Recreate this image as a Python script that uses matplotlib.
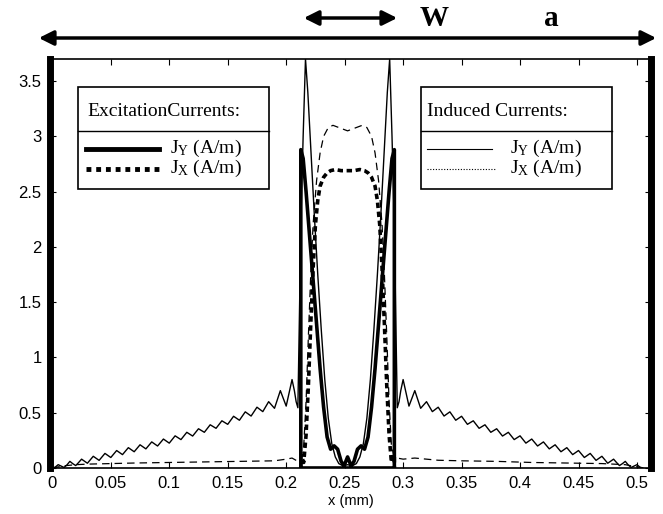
import matplotlib
matplotlib.use('Agg')
import matplotlib.pyplot as plt
from matplotlib.patches import Rectangle, FancyArrowPatch
from matplotlib.lines import Line2D

plt.rcParams['mathtext.fontset'] = 'custom'
plt.rcParams['mathtext.rm'] = 'Liberation Serif'
plt.rcParams['mathtext.it'] = 'Liberation Serif:italic'

# ---------------- data ----------------
# Induced J_Y (thin solid): left ramp, strip region, right ramp
ind_jy_left_x = [0.0000, 0.0025, 0.0050, 0.0075, 0.0100, 0.0125, 0.0150, 0.0175, 0.0200, 0.0225,
                 0.0250, 0.0275, 0.0300, 0.0325, 0.0350, 0.0375, 0.0400, 0.0425, 0.0450, 0.0475,
                 0.0500, 0.0525, 0.0550, 0.0575, 0.0600, 0.0625, 0.0650, 0.0675, 0.0700, 0.0725,
                 0.0750, 0.0775, 0.0800, 0.0825, 0.0850, 0.0875, 0.0900, 0.0925, 0.0950, 0.0975,
                 0.1000, 0.1025, 0.1050, 0.1075, 0.1100, 0.1125, 0.1150, 0.1175, 0.1200, 0.1225,
                 0.1250, 0.1275, 0.1300, 0.1325, 0.1350, 0.1375, 0.1400, 0.1425, 0.1450, 0.1475,
                 0.1500, 0.1525, 0.1550, 0.1575, 0.1600, 0.1625, 0.1650, 0.1675, 0.1700, 0.1725,
                 0.1750, 0.1775, 0.1800, 0.1825, 0.1850, 0.1875, 0.1900, 0.1925, 0.1950, 0.1975,
                 0.2000, 0.2025, 0.2050, 0.2070, 0.2085, 0.2100]
ind_jy_left_y = [0.000, 0.008, 0.030, 0.017, 0.005, 0.028, 0.060, 0.039, 0.022, 0.050,
                 0.080, 0.062, 0.043, 0.075, 0.106, 0.088, 0.069, 0.101, 0.132, 0.114,
                 0.095, 0.127, 0.158, 0.140, 0.121, 0.153, 0.184, 0.166, 0.147, 0.179,
                 0.210, 0.192, 0.173, 0.205, 0.236, 0.218, 0.199, 0.231, 0.262, 0.244,
                 0.225, 0.258, 0.291, 0.274, 0.257, 0.290, 0.323, 0.306, 0.289, 0.322,
                 0.355, 0.339, 0.323, 0.357, 0.391, 0.375, 0.359, 0.393, 0.427, 0.411,
                 0.395, 0.431, 0.468, 0.450, 0.432, 0.470, 0.508, 0.489, 0.470, 0.510,
                 0.550, 0.530, 0.510, 0.555, 0.600, 0.570, 0.540, 0.620, 0.700, 0.630,
                 0.560, 0.680, 0.800, 0.700, 0.600, 0.545]
ind_jy_mid_x = [0.2115, 0.2125, 0.2145, 0.2165, 0.2185, 0.221, 0.224, 0.227, 0.230, 0.233,
                0.236, 0.239, 0.242, 0.245, 0.2485, 0.2525, 0.2565, 0.260, 0.263, 0.266,
                0.269, 0.272, 0.275, 0.278, 0.281, 0.284, 0.2865, 0.2885, 0.2905, 0.2925,
                0.2935]
ind_jy_mid_y = [1.5, 2.2, 3.0, 3.7, 3.4, 2.9, 2.3, 1.75, 1.25, 0.8,
                0.45, 0.22, 0.1, 0.04, 0.02, 0.03, 0.02, 0.04, 0.1, 0.22,
                0.45, 0.8, 1.25, 1.75, 2.3, 2.9, 3.4, 3.7, 3.0, 2.2,
                1.5]
ind_jy_right_x = [0.2950, 0.2965, 0.2980, 0.3000, 0.3025, 0.3050, 0.3075, 0.3100, 0.3125, 0.3150,
                  0.3175, 0.3200, 0.3225, 0.3250, 0.3275, 0.3300, 0.3325, 0.3350, 0.3375, 0.3400,
                  0.3425, 0.3450, 0.3475, 0.3500, 0.3525, 0.3550, 0.3575, 0.3600, 0.3625, 0.3650,
                  0.3675, 0.3700, 0.3725, 0.3750, 0.3775, 0.3800, 0.3825, 0.3850, 0.3875, 0.3900,
                  0.3925, 0.3950, 0.3975, 0.4000, 0.4025, 0.4050, 0.4075, 0.4100, 0.4125, 0.4150,
                  0.4175, 0.4200, 0.4225, 0.4250, 0.4275, 0.4300, 0.4325, 0.4350, 0.4375, 0.4400,
                  0.4425, 0.4450, 0.4475, 0.4500, 0.4525, 0.4550, 0.4575, 0.4600, 0.4625, 0.4650,
                  0.4675, 0.4700, 0.4725, 0.4750, 0.4775, 0.4800, 0.4825, 0.4850, 0.4875, 0.4900,
                  0.4925, 0.4950, 0.4975, 0.5000, 0.5025, 0.5050]
ind_jy_right_y = [0.545, 0.600, 0.700, 0.800, 0.680, 0.560, 0.630, 0.700, 0.620, 0.540,
                  0.570, 0.600, 0.555, 0.510, 0.530, 0.550, 0.510, 0.470, 0.489, 0.508,
                  0.470, 0.432, 0.450, 0.468, 0.431, 0.395, 0.411, 0.427, 0.393, 0.359,
                  0.375, 0.391, 0.357, 0.323, 0.339, 0.355, 0.322, 0.289, 0.306, 0.323,
                  0.290, 0.257, 0.274, 0.291, 0.258, 0.225, 0.244, 0.262, 0.231, 0.199,
                  0.218, 0.236, 0.205, 0.173, 0.192, 0.210, 0.179, 0.147, 0.166, 0.184,
                  0.153, 0.121, 0.140, 0.158, 0.127, 0.095, 0.114, 0.132, 0.101, 0.069,
                  0.088, 0.106, 0.075, 0.043, 0.062, 0.080, 0.050, 0.022, 0.039, 0.060,
                  0.028, 0.005, 0.017, 0.030, 0.008, 0.000]

# Induced J_X (thin dashed)
ind_jx_x = [0.000, 0.010, 0.020, 0.030, 0.050, 0.070, 0.100, 0.130, 0.160, 0.190,
            0.200, 0.205, 0.210, 0.2125, 0.215, 0.217, 0.219, 0.221, 0.223, 0.226,
            0.229, 0.232, 0.236, 0.240, 0.245, 0.2525, 0.260, 0.265, 0.269, 0.273,
            0.276, 0.279, 0.282, 0.284, 0.286, 0.288, 0.290, 0.2925, 0.295, 0.300,
            0.310, 0.330, 0.350, 0.380, 0.410, 0.440, 0.470, 0.490, 0.500, 0.505]
ind_jx_y = [0.00, 0.02, 0.03, 0.035, 0.04, 0.045, 0.05, 0.055, 0.06, 0.065,
            0.08, 0.09, 0.06, 0.10, 0.2, 0.6, 1.2, 1.75, 2.2, 2.6,
            2.85, 3.0, 3.08, 3.1, 3.08, 3.05, 3.08, 3.1, 3.08, 3.0,
            2.85, 2.6, 2.2, 1.75, 1.2, 0.6, 0.2, 0.10, 0.09, 0.08,
            0.09, 0.07, 0.065, 0.06, 0.05, 0.045, 0.04, 0.03, 0.01, 0.00]

# Excitation J_Y (thick solid), incl. strip bottom
exc_jy_x = [0.2125, 0.2125, 0.2145, 0.217, 0.220, 0.223, 0.226, 0.229, 0.232, 0.235,
            0.238, 0.241, 0.244, 0.247, 0.2495, 0.2525, 0.2555, 0.258, 0.261, 0.264,
            0.267, 0.270, 0.273, 0.276, 0.279, 0.282, 0.285, 0.288, 0.2905, 0.2925,
            0.2925, 0.2125]
exc_jy_y = [0.0, 2.88, 2.8, 2.5, 2.1, 1.7, 1.3, 0.9, 0.55, 0.28,
            0.17, 0.2, 0.17, 0.06, 0.02, 0.1, 0.02, 0.06, 0.17, 0.2,
            0.17, 0.28, 0.55, 0.9, 1.3, 1.7, 2.1, 2.5, 2.8, 2.88,
            0.0, 0.0]

# Excitation J_X (thick dashed)
exc_jx_x = [0.2125, 0.2125, 0.215, 0.217, 0.219, 0.221, 0.223, 0.225, 0.227, 0.229,
            0.232, 0.235, 0.238, 0.242, 0.247, 0.2525, 0.258, 0.263, 0.267, 0.270,
            0.273, 0.276, 0.278, 0.280, 0.282, 0.284, 0.286, 0.288, 0.290, 0.2925,
            0.2925]
exc_jx_y = [0.0, 0.12, 0.05, 0.3, 0.75, 1.3, 1.8, 2.2, 2.42, 2.55,
            2.63, 2.67, 2.69, 2.7, 2.69, 2.69, 2.69, 2.7, 2.69, 2.67,
            2.63, 2.55, 2.42, 2.2, 1.8, 1.3, 0.75, 0.3, 0.05, 0.12,
            0.0]

x_ticks = [0, 0.05, 0.1, 0.15, 0.2, 0.25, 0.3, 0.35, 0.4, 0.45, 0.5]
x_tick_labels = ['0', '0.05', '0.1', '0.15', '0.2', '0.25', '0.3', '0.35', '0.4', '0.45', '0.5']
y_ticks = [0, 0.5, 1, 1.5, 2, 2.5, 3, 3.5]
y_tick_labels = ['0', '0.5', '1', '1.5', '2', '2.5', '3', '3.5']

# ---------------- figure ----------------
W, H = 663, 514
fig = plt.figure(figsize=(W / 100, H / 100), dpi=100)


def fx(p):
    return p / W


def fy(p):
    return 1 - p / H


ax = fig.add_axes([fx(50), fy(468), fx(651) - fx(50), fy(59) - fy(468)])

ax.plot(ind_jy_left_x + ind_jy_mid_x + ind_jy_right_x,
        ind_jy_left_y + ind_jy_mid_y + ind_jy_right_y,
        color='black', lw=1.0, solid_joinstyle='round')
ax.plot(ind_jx_x, ind_jx_y, color='black', lw=0.9, dashes=(6, 4))
ax.plot(exc_jy_x, exc_jy_y, color='black', lw=2.6, solid_joinstyle='round')
ax.plot(exc_jx_x, exc_jx_y, color='black', lw=2.6, dashes=(1.5, 1.0))

ax.set_xlim(-0.002, 0.512)
ax.set_ylim(0, 3.7)
ax.set_xticks(x_ticks)
ax.set_xticklabels(x_tick_labels, fontfamily='Liberation Sans', fontsize=12)
ax.set_yticks(y_ticks)
ax.set_yticklabels(y_tick_labels, fontfamily='Liberation Sans', fontsize=12)
ax.tick_params(direction='in', top=True, right=True, length=4, width=0.8, pad=6)
ax.set_xlabel('x (mm)', fontfamily='Liberation Sans', fontsize=10.5, labelpad=2)
for s in ['left', 'right']:
    ax.spines[s].set_linewidth(5)
for s in ['top', 'bottom']:
    ax.spines[s].set_linewidth(1.2)

# ---------------- legend boxes ----------------
serif = 'Liberation Serif'


def box(x0, x1, y0, ysep, y1):
    fig.patches.append(Rectangle((fx(x0), fy(y1)), fx(x1) - fx(x0), fy(y0) - fy(y1),
                                 transform=fig.transFigure, fill=True, facecolor='white',
                                 edgecolor='black', lw=1.2, zorder=5))
    fig.lines.append(Line2D([fx(x0), fx(x1)], [fy(ysep), fy(ysep)],
                            transform=fig.transFigure, color='black', lw=1.0, zorder=6))


box(78, 269, 87, 131, 189)
fig.text(fx(87), fy(111), 'ExcitationCurrents:', fontfamily=serif, fontsize=14,
         va='center', ha='left', zorder=7)
fig.lines.append(Line2D([fx(86), fx(159)], [fy(149), fy(149)], transform=fig.transFigure,
                        color='black', lw=3.5, zorder=7))
fig.lines.append(Line2D([fx(86), fx(159)], [fy(169), fy(169)], transform=fig.transFigure,
                        color='black', lw=3.5, dashes=(1, 1), zorder=7))
fig.text(fx(170), fy(148), r'J$_{\mathrm{Y}}$ (A/m)', fontfamily=serif, fontsize=14,
         va='center', ha='left', zorder=7)
fig.text(fx(170), fy(168), r'J$_{\mathrm{X}}$ (A/m)', fontfamily=serif, fontsize=14,
         va='center', ha='left', zorder=7)

box(421, 612, 87, 131, 189)
fig.text(fx(427), fy(111), 'Induced Currents:', fontfamily=serif, fontsize=14,
         va='center', ha='left', zorder=7)
fig.lines.append(Line2D([fx(427), fx(492)], [fy(149), fy(149)], transform=fig.transFigure,
                        color='black', lw=0.8, zorder=7))
fig.lines.append(Line2D([fx(427), fx(495)], [fy(169), fy(169)], transform=fig.transFigure,
                        color='black', lw=0.8, dashes=(1, 1.5), zorder=7))
fig.text(fx(510), fy(148), r'J$_{\mathrm{Y}}$ (A/m)', fontfamily=serif, fontsize=14,
         va='center', ha='left', zorder=7)
fig.text(fx(510), fy(168), r'J$_{\mathrm{X}}$ (A/m)', fontfamily=serif, fontsize=14,
         va='center', ha='left', zorder=7)

# ---------------- top annotations ----------------
fig.add_artist(FancyArrowPatch(
    (fx(36), fy(38)), (fx(659), fy(38)), transform=fig.transFigure,
    arrowstyle='<|-|>', mutation_scale=22, lw=2.5, color='black'))
fig.add_artist(FancyArrowPatch(
    (fx(301), fy(18)), (fx(400), fy(18)), transform=fig.transFigure,
    arrowstyle='<|-|>', mutation_scale=22, lw=2.5, color='black'))
fig.text(fx(434), fy(18), 'W', fontfamily=serif, fontweight='bold', fontsize=21,
         ha='center', va='center')
fig.text(fx(551), fy(19), 'a', fontfamily=serif, fontweight='bold', fontsize=21,
         ha='center', va='center')

fig.savefig('out.png', dpi=100)
